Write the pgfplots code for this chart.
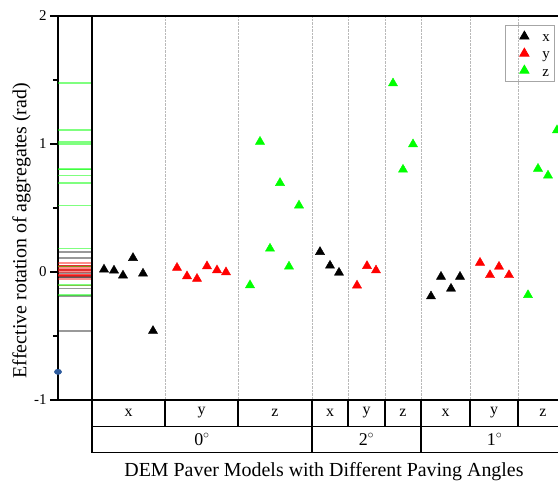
\documentclass[border=0pt]{standalone}
\usepackage{fontspec}
\setmainfont{Liberation Serif}
\usepackage{pgfplots}
\usepackage{pgfplotstable}
\pgfplotsset{compat=1.18}

\definecolor{ptgreen}{RGB}{0,255,0}
\definecolor{ptred}{RGB}{255,0,0}
\definecolor{dotblue}{RGB}{46,92,158}

\newcommand{\legfont}{\fontsize{15}{18}\selectfont\strut}

% pos = place along the category axis, val = effective rotation (rad)
\pgfplotstableread{
pos val
12  0.020
22  0.012
31 -0.027
41  0.110
51 -0.012
61 -0.460
228 0.157
238 0.050
247 -0.005
339 -0.190
349 -0.037
359 -0.130
368 -0.037
}\rotx

\pgfplotstableread{
pos val
85  0.033
95 -0.033
105 -0.053
115 0.045
125 0.014
134 -0.002
265 -0.105
275 0.047
284 0.013
388 0.073
398 -0.024
407 0.042
417 -0.024
}\roty

\pgfplotstableread{
pos val
158 -0.103
168 1.018
178 0.183
188 0.696
197 0.043
207 0.520
301 1.474
311 0.800
321 0.998
436 -0.180
446 0.807
456 0.754
465 1.108
}\rotz

\begin{document}
\begin{tikzpicture}
  % marginal strip on the left
  \begin{axis}[at={(58bp,85bp)}, anchor=south west, scale only axis,
    width=34bp, height=384bp,
    xmin=0, xmax=1, ymin=-1, ymax=2,
    xtick=\empty, ytick={-1,0,1,2}, minor tick num=1,
    ytick pos=left, tick align=outside,
    major tick length=8bp, minor tick length=5bp,
    tick style={black, line width=1.2bp},
    axis line style={line width=1.2bp},
    clip=false,
    /pgf/number format/assume math mode=true,
    yticklabel style={font=\fontsize{15}{18}\selectfont},
    ylabel={Effective rotation of aggregates (rad)},
    ylabel style={at={(axis description cs:-1.07,0.441)}, anchor=center,
      font=\fontsize{20}{24}\selectfont}]
    \addplot[only marks, mark=-, mark size=17bp,
      mark options={black, opacity=0.4, line width=1.7bp}] table[x expr=0.5, y=val] {\rotx};
    \addplot[only marks, mark=-, mark size=17bp,
      mark options={ptred, opacity=0.45, line width=1.7bp}] table[x expr=0.5, y=val] {\roty};
    \addplot[only marks, mark=-, mark size=17bp,
      mark options={ptgreen, opacity=0.5, line width=1.7bp}] table[x expr=0.5, y=val] {\rotz};
    \addplot[only marks, mark=*, mark size=2.7bp, color=dotblue,
      mark options={xscale=1.35}] coordinates {(0,-0.78)};
  \end{axis}

  % main panel
  \begin{axis}[at={(92bp,85bp)}, anchor=south west, scale only axis,
    width=476bp, height=384bp,
    xmin=0, xmax=476, ymin=-1, ymax=2,
    xtick={73,146,220,256,293,329,378,426}, xticklabels={},
    major tick length=0pt, ytick=\empty,
    xmajorgrids, grid style={densely dotted, gray!55, line width=0.8bp},
    axis line style={line width=1.2bp},
    clip=false,
    legend image code/.code={
      \path[draw=none, fill=none] (0bp,-5bp) rectangle (32bp,5bp);
      \draw[mark repeat=2, mark phase=2, #1]
        plot coordinates {(0bp,0bp) (16bp,0bp) (32bp,0bp)};},
    legend style={at={(0.8676,0.9766)}, anchor=north west, draw=gray!70,
      fill=none, line width=0.8bp, inner xsep=3bp, inner ysep=2.5bp,
      legend cell align=left,
      nodes={inner xsep=2bp, inner ysep=1.5bp}}]
    \addplot[only marks, mark=triangle*, mark size=5.3bp, black] table[x=pos, y=val] {\rotx};
    \addlegendentry{\legfont x}
    \addplot[only marks, mark=triangle*, mark size=5.3bp, ptred] table[x=pos, y=val] {\roty};
    \addlegendentry{\legfont y}
    \addplot[only marks, mark=triangle*, mark size=5.3bp, ptgreen] table[x=pos, y=val] {\rotz};
    \addlegendentry{\legfont z}

    % category table under the panel
    \draw[line width=1.2bp] (axis cs:0,-1.208) -- (axis cs:476,-1.208);
    \draw[line width=1.2bp] (axis cs:0,-1.412) -- (axis cs:476,-1.412);
    \draw[line width=1.2bp] (axis cs:0,-1) -- (axis cs:0,-1.412);
    \pgfplotsinvokeforeach{73,146,220,256,293,329,378,426}{
      \draw[line width=1.2bp] (axis cs:#1,-1) -- (axis cs:#1,-1.208);}
    \pgfplotsinvokeforeach{220,329}{
      \draw[line width=1.2bp] (axis cs:#1,-1.208) -- (axis cs:#1,-1.412);}
    \begin{scope}[font=\fontsize{16}{19}\selectfont]
      \node at (axis cs:36.5,-1.10) {x};
      \node at (axis cs:109.5,-1.10) {y};
      \node at (axis cs:183,-1.10) {z};
      \node at (axis cs:238,-1.10) {x};
      \node at (axis cs:274.5,-1.10) {y};
      \node at (axis cs:311,-1.10) {z};
      \node at (axis cs:353.5,-1.10) {x};
      \node at (axis cs:402,-1.10) {y};
      \node at (axis cs:451,-1.10) {z};
    \end{scope}
    \begin{scope}[font=\fontsize{18}{21}\selectfont]
      \node at (axis cs:110,-1.307) {0$^{\circ}$};
      \node at (axis cs:274.5,-1.307) {2$^{\circ}$};
      \node at (axis cs:402.5,-1.307) {1$^{\circ}$};
    \end{scope}
    \node[font=\fontsize{20}{24}\selectfont] at (axis cs:232,-1.56)
      {DEM Paver Models with Different Paving Angles};
  \end{axis}
  \pgfresetboundingbox
  \path[use as bounding box] (0,0) rectangle (558bp,485bp);
\end{tikzpicture}
\end{document}
